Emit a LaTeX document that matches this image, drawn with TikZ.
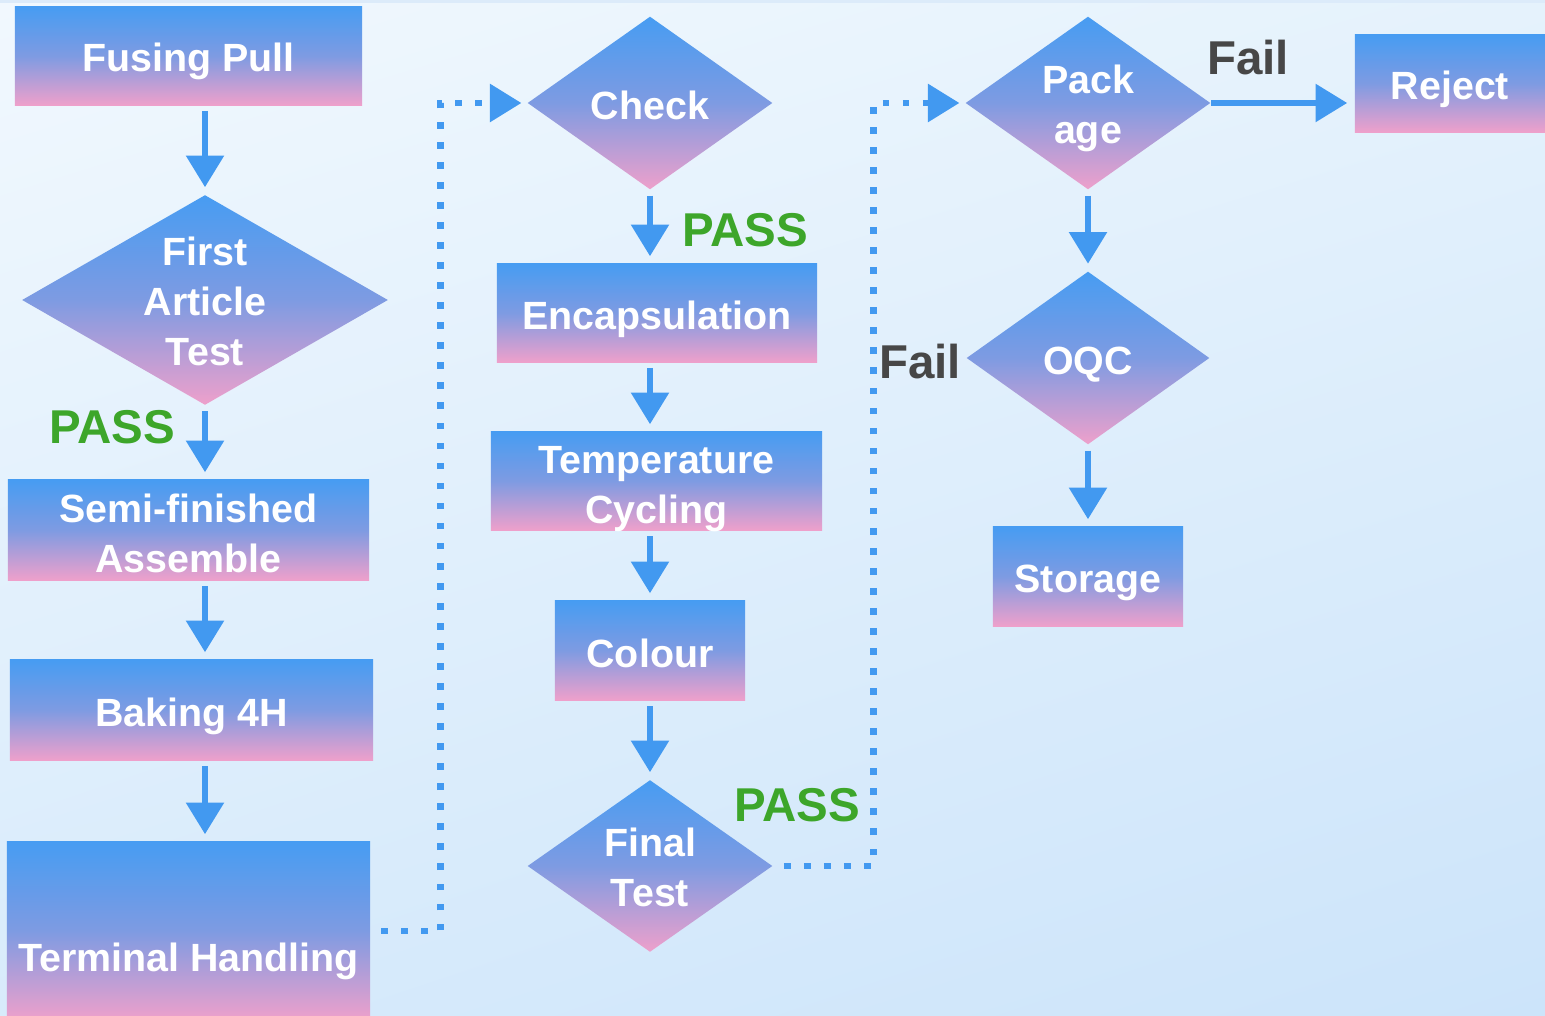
\documentclass[tikz,border=0pt]{standalone}
\usepackage{fontspec}
\setmainfont{Liberation Sans}
\usetikzlibrary{shapes.geometric,arrows.meta,calc,shadings}
\definecolor{bl}{HTML}{479CF2}
\definecolor{md}{HTML}{7E9BE2}
\definecolor{pk}{HTML}{EEA0CB}
\definecolor{arr}{HTML}{4299F0}
\definecolor{passc}{HTML}{3DA62A}
\definecolor{failc}{HTML}{474747}
\definecolor{bgUL}{HTML}{F1F8FE}
\definecolor{bgUR}{HTML}{E5F2FC}
\definecolor{bgLL}{HTML}{D8EBFB}
\definecolor{bgLR}{HTML}{CCE4FA}
\definecolor{topband}{HTML}{DCEBFA}
\pgfdeclareverticalshading{boxshade}{100bp}{color(0bp)=(pk); color(25bp)=(pk); color(50bp)=(md); color(75bp)=(bl); color(100bp)=(bl)}
\newcommand\boxfnt{\fontsize{11.2}{14.2}\selectfont\bfseries}
\newcommand\lblfnt{\fontsize{13.5}{15}\selectfont\bfseries}
\tikzset{
  box/.style={rectangle, shading=boxshade, inner sep=0pt},
  dia/.style={diamond, shading=boxshade, inner sep=0pt},
  txt/.style={text=white, font=\boxfnt, align=center, inner sep=0pt},
  flow/.style={draw=arr, line width=1.7pt, shorten <=1.5pt, shorten >=2pt, -{Triangle[width=10.5pt,length=9pt]}},
  dotflow/.style={draw=arr, line width=1.9pt, dash pattern=on 1.9pt off 3.8pt, shorten <=3pt, shorten >=1.5pt, -{Triangle[width=10.5pt,length=9pt]}},
  passlbl/.style={text=passc, font=\lblfnt, inner sep=0pt},
  faillbl/.style={text=failc, font=\lblfnt, inner sep=0pt},
}
\begin{document}
\begin{tikzpicture}[x=0.01cm, y=-0.01cm]
\useasboundingbox (0,0) rectangle (1545,1016);
\clip (0,0) rectangle (1545,1016);
\shade[upper left=bgUL, upper right=bgUR, lower left=bgLL, lower right=bgLR] (0,0) rectangle (1545,1016);
\fill[topband] (0,0) rectangle (1545,3);

% column 1
\node[box, minimum width=3.47cm, minimum height=0.98cm] (fusing) at (188.5,56) {};
\node[txt] (fusingt) at (188.5,61) {Fusing Pull};
\node[dia, minimum width=3.66cm, minimum height=2.10cm] (fat) at (205,300) {};
\node[txt] (fatt) at (205,301) {First\\Article\\Test};
\node[box, minimum width=3.61cm, minimum height=1.00cm] (semi) at (188.5,530) {};
\node[txt] (semit) at (188.5,533.5) {Semi-finished\\Assemble};
\node[box, minimum width=3.63cm, minimum height=1.00cm] (baking) at (191.5,710) {};
\node[txt] (bakingt) at (191.5,716) {Baking 4H};
\node[box, minimum width=3.63cm, minimum height=1.78cm] (term) at (188.5,931) {};
\node[txt] (termt) at (188.5,961) {Terminal Handling};

% column 2
\node[dia, minimum width=2.45cm, minimum height=1.73cm] (check) at (650,103) {};
\node[txt] (checkt) at (650,105) {Check};
\node[box, minimum width=3.20cm, minimum height=0.98cm] (encap) at (657,313) {};
\node[txt] (encapt) at (657,319) {Encapsulation};
\node[box, minimum width=3.31cm, minimum height=0.98cm] (temp) at (656.5,481) {};
\node[txt] (tempt) at (656.5,489) {Temperature\\Cycling};
\node[box, minimum width=1.90cm, minimum height=0.99cm] (colour) at (650,650.5) {};
\node[txt] (colourt) at (650,653) {Colour};
\node[dia, minimum width=2.45cm, minimum height=1.72cm] (final) at (650,866) {};
\node[txt] (finalt) at (650,867) {Final\\Test};

% column 3
\node[dia, minimum width=2.45cm, minimum height=1.73cm] (pack) at (1088,103) {};
\node[txt] (packt) at (1088,108) {Pack\\age};
\node[box, minimum width=2.00cm, minimum height=0.97cm] (reject) at (1455,83.5) {};
\node[txt] (rejectt) at (1450,89) {Reject};
\node[dia, minimum width=2.43cm, minimum height=1.73cm] (oqc) at (1088,358) {};
\node[txt] (oqct) at (1088,365) {OQC};
\node[box, minimum width=1.90cm, minimum height=0.99cm] (storage) at (1088,576.5) {};
\node[txt] (storaget) at (1088,583) {Storage};

% labels
\node[passlbl] (p1) at (112,427) {PASS};
\node[passlbl] (p2) at (745,230) {PASS};
\node[passlbl] (p3) at (797,805) {PASS};
\node[faillbl] (f1) at (1248,58) {Fail};
\node[faillbl] (f2) at (920,362) {Fail};

% solid connectors
\draw[flow] (fusing.south -| fat.north) -- (fat.north);
\draw[flow] (fat.south) -- (fat.south |- semi.north);
\draw[flow] (semi.south -| fat.south) -- (baking.north -| fat.south);
\draw[flow] (baking.south -| fat.south) -- (term.north -| fat.south);
\draw[flow] (check.south) -- (check.south |- encap.north);
\draw[flow] (encap.south -| check.south) -- (temp.north -| check.south);
\draw[flow] (temp.south -| check.south) -- (colour.north);
\draw[flow] (colour.south) -- (final.north);
\draw[flow, shorten <=0pt] (pack.east) -- (pack.east -| reject.west);
\draw[flow] (pack.south) -- (oqc.north);
\draw[flow] (oqc.south) -- (storage.north);

% dotted connectors
\draw[dotflow] (term.east) -- ++(70,0) |- (check.west);
\draw[dotflow] (final.east) -- ++(100,0) |- (pack.west);
\end{tikzpicture}
\end{document}
